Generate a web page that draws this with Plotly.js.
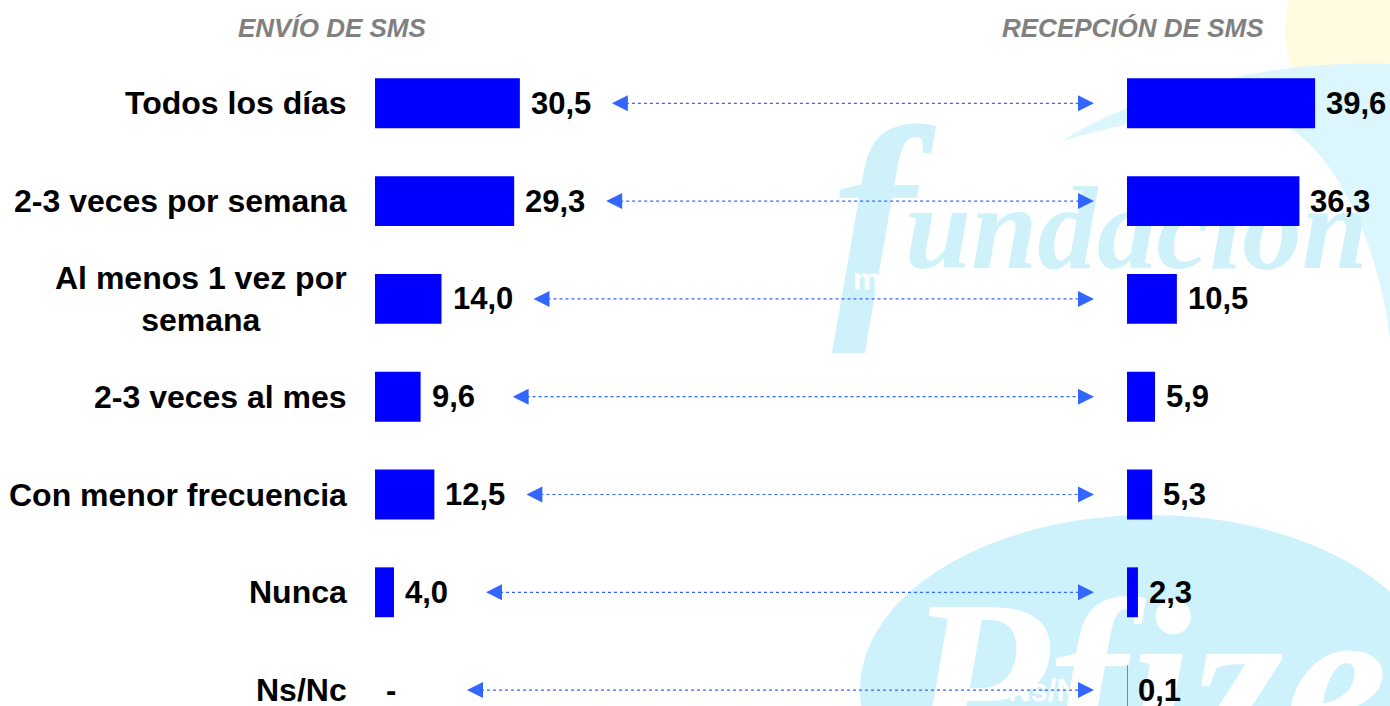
<!DOCTYPE html>
<html>
<head>
<meta charset="utf-8">
<script src="https://cdn.plot.ly/plotly-3.0.1.min.js"></script>
<style>
  html, body { margin: 0; padding: 0; background: #ffffff; }
  #chart { width: 1390px; height: 706px; }
</style>
</head>
<body>
<div id="chart"></div>
<script>
// ---------------- DATA ----------------
const categories = ['Todos los días', '2-3 veces por semana', 'Al menos 1 vez por semana',
                    '2-3 veces al mes', 'Con menor frecuencia', 'Nunca', 'Ns/Nc'];
const categoryLabels = ['Todos los días', '2-3 veces por semana', 'Al menos 1 vez por<br>semana',
                        '2-3 veces al mes', 'Con menor frecuencia', 'Nunca', 'Ns/Nc'];
// labels of the right panel (drawn in white in the original, only partly visible)
const hiddenRightLabels = ['', '', 'Al menos 1 vez por<br>semana', '', '', '', 'Ns/Nc'];
const envio = [30.5, 29.3, 14.0, 9.6, 12.5, 4.0, null];
const recepcion = [39.6, 36.3, 10.5, 5.9, 5.3, 2.3, 0.1];
const titleEnvio = 'ENVÍO DE SMS';
const titleRecepcion = 'RECEPCIÓN DE SMS';

// ---------------- LAYOUT CONSTANTS ----------------
const W = 1390, H = 706;
const PX = 4.75;            // pixels per percentage point
const LEFT0 = 375;          // left panel bar origin (px)
const RIGHT0 = 1127;        // right panel bar origin (px)
const LEFT_RANGE = 60;
const RIGHT_RANGE = (W - RIGHT0) / PX;
const ROW0 = 103.3, ROWSTEP = 97.8;
const yTop = -ROW0 / ROWSTEP;
const yBottom = yTop + H / ROWSTEP;
const FONT = 'Liberation Sans, Arial, Helvetica, sans-serif';
const ARROW = '#3366ff';
const fmt = v => (v === null || v === undefined) ? '-' : v.toFixed(1).replace('.', ',');

// ---------------- WATERMARK (logo) ----------------
const svg = `<svg xmlns="http://www.w3.org/2000/svg" width="1390" height="706" viewBox="0 0 1390 706">
<circle cx="1400" cy="30" r="115" fill="#fffbe0"/>
<path d="M1060,142 C1150,84 1290,60 1390,64 L1390,340 C1380,250 1340,160 1290,128 C1220,112 1140,115 1060,142 Z" fill="#dbf6fc"/>
<text x="832" y="300" font-family="Liberation Serif, DejaVu Serif, serif" font-style="italic" font-weight="bold" font-size="250" fill="#cff1fa">f</text>
<text x="905" y="268" font-family="Liberation Serif, DejaVu Serif, serif" font-style="italic" font-weight="bold" font-size="118" fill="#cff1fa" textLength="463" lengthAdjust="spacingAndGlyphs">undación</text>
<ellipse cx="1150" cy="690" rx="290" ry="175" fill="#cdf2fb"/>
<text x="905" y="762" font-family="Liberation Serif, DejaVu Serif, serif" font-style="italic" font-weight="bold" font-size="235" fill="#ffffff">Pfizer</text>
</svg>`;

// ---------------- TRACES ----------------
const barStyle = { color: '#0000ff', line: { width: 0 } };

const traceEnvio = {
  type: 'bar', orientation: 'h', x: envio, y: categories,
  xaxis: 'x', yaxis: 'y', width: 0.51, marker: barStyle, hoverinfo: 'skip'
};
const traceRecepcion = {
  type: 'bar', orientation: 'h', x: recepcion, y: categories,
  xaxis: 'x2', yaxis: 'y2', width: 0.51, marker: barStyle, hoverinfo: 'skip'
};

// connectors
const leftTip = envio.map(v => LEFT0 + (v || 0) * PX + 92);
const rightTip = 1094;
const lx = [], ly = [];
categories.forEach((c, i) => {
  lx.push(leftTip[i] + 8, rightTip - 8, null);
  ly.push(c, c, null);
});
const traceLines = {
  type: 'scatter', mode: 'lines', x: lx, y: ly, xaxis: 'x3', yaxis: 'y',
  line: { color: ARROW, width: 1.2, dash: 'dot' }, connectgaps: false, hoverinfo: 'skip'
};

// ---------------- ANNOTATIONS ----------------
const annotations = [];
annotations.push({
  text: titleEnvio, xref: 'paper', yref: 'paper', x: 332 / W, y: 1 - 28 / H,
  xanchor: 'center', yanchor: 'middle', showarrow: false,
  font: { family: FONT, size: 26, color: '#808080', weight: 'bold', style: 'italic' }
});
annotations.push({
  text: titleRecepcion, xref: 'paper', yref: 'paper', x: 1133 / W, y: 1 - 28 / H,
  xanchor: 'center', yanchor: 'middle', showarrow: false,
  font: { family: FONT, size: 26, color: '#808080', weight: 'bold', style: 'italic' }
});
categories.forEach((c, i) => {
  annotations.push({
    text: categoryLabels[i], xref: 'paper', yref: 'y', x: 349 / W, y: c,
    xanchor: 'right', yanchor: 'middle', align: 'center', showarrow: false,
    font: { family: FONT, size: 32, color: '#000000', weight: 'bold' }
  });
  annotations.push({
    text: fmt(envio[i]), xref: 'x', yref: 'y', x: envio[i] || 0, y: c,
    xanchor: 'left', yanchor: 'middle', xshift: 9, showarrow: false,
    font: { family: FONT, size: 31, color: '#000000', weight: 'bold' }
  });
  annotations.push({
    text: fmt(recepcion[i]), xref: 'x2', yref: 'y2', x: recepcion[i], y: c,
    xanchor: 'left', yanchor: 'middle', xshift: 9, showarrow: false,
    font: { family: FONT, size: 31, color: '#000000', weight: 'bold' }
  });
  // arrowheads
  annotations.push({
    text: '', xref: 'x3', yref: 'y', x: leftTip[i], y: c, ax: 14, ay: 0,
    showarrow: true, arrowhead: 2, arrowsize: 3.2, arrowwidth: 1, arrowcolor: ARROW
  });
  annotations.push({
    text: '', xref: 'x3', yref: 'y', x: rightTip, y: c, ax: -14, ay: 0,
    showarrow: true, arrowhead: 2, arrowsize: 3.2, arrowwidth: 1, arrowcolor: ARROW
  });
});

const hiddenAxis = { visible: false, fixedrange: true, showgrid: false, zeroline: false };

const layout = {
  width: W, height: H,
  margin: { l: 0, r: 0, t: 0, b: 0, pad: 0 },
  paper_bgcolor: '#ffffff', plot_bgcolor: 'rgba(0,0,0,0)',
  showlegend: false, hovermode: false,
  xaxis: Object.assign({}, hiddenAxis, { domain: [LEFT0 / W, (LEFT0 + PX * LEFT_RANGE) / W], range: [0, LEFT_RANGE], anchor: 'y' }),
  xaxis2: Object.assign({}, hiddenAxis, { domain: [RIGHT0 / W, 1], range: [0, RIGHT_RANGE], anchor: 'y2' }),
  xaxis3: Object.assign({}, hiddenAxis, { domain: [0, 1], range: [0, W], anchor: 'y' }),
  yaxis: Object.assign({}, hiddenAxis, {
    type: 'category', categoryorder: 'array', categoryarray: categories,
    range: [yBottom, yTop], anchor: 'x', domain: [0, 1]
  }),
  yaxis2: {
    type: 'category', categoryorder: 'array', categoryarray: categories,
    range: [yBottom, yTop], anchor: 'x2', domain: [0, 1], side: 'left',
    fixedrange: true, showgrid: false, zeroline: false, showline: false, ticks: '',
    tickmode: 'array', tickvals: categories, ticktext: hiddenRightLabels,
    tickfont: { family: FONT, size: 31, color: '#ffffff', weight: 'bold' },
    ticklabelstandoff: 30, automargin: false, layer: 'below traces'
  },
  images: [{
    source: 'data:image/svg+xml;charset=utf-8,' + encodeURIComponent(svg),
    xref: 'paper', yref: 'paper', x: 0, y: 1, sizex: 1, sizey: 1,
    xanchor: 'left', yanchor: 'top', sizing: 'stretch', layer: 'below'
  }],
  annotations: annotations
};

Plotly.newPlot('chart', [traceEnvio, traceRecepcion, traceLines], layout,
  { displayModeBar: false, staticPlot: true, responsive: false });
</script>
</body>
</html>
